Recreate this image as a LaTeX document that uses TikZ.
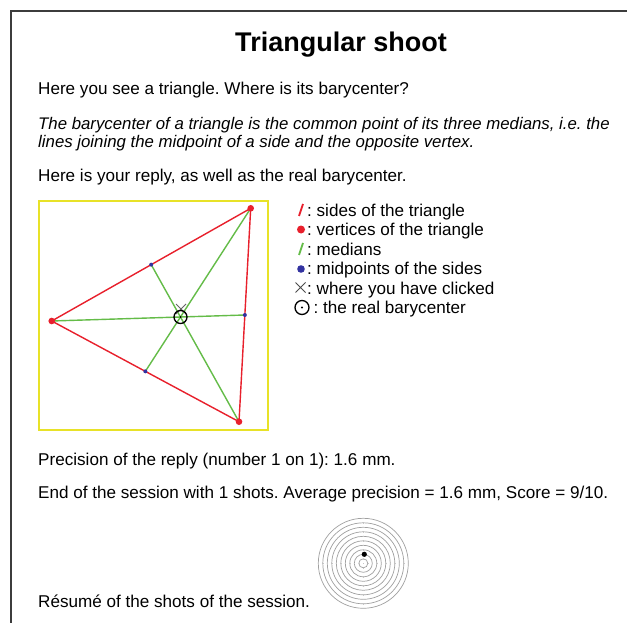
\documentclass[tikz,border=0pt]{standalone}
\usepackage{fontspec}
\setmainfont{Liberation Sans}
\usetikzlibrary{calc}
\frenchspacing
\definecolor{tyellow}{RGB}{232,226,40}
\definecolor{tred}{RGB}{232,32,44}
\definecolor{tgreen}{RGB}{100,188,72}
\definecolor{tblue}{RGB}{50,50,160}
\definecolor{tframe}{RGB}{60,60,60}
\definecolor{tring}{RGB}{160,160,160}
\tikzset{
  txt/.style={anchor=base west, inner sep=0pt, font=\fontsize{17.1}{20}\selectfont},
  itxt/.style={txt, font=\fontsize{16.8}{20}\selectfont\itshape},
  side/.style={draw=tred, line width=1.4pt},
  median/.style={draw=tgreen, line width=1.4pt},
  vdot/.style={fill=tred},
  mdot/.style={fill=tblue},
}
\begin{document}
\begin{tikzpicture}[x=1pt,y=-1pt]
\useasboundingbox (0,0) rectangle (627,623);
\fill[white] (0,0) rectangle (627,623);
% frame
\draw[tframe, line width=1.5pt] (11,623) -- (11,11) -- (627,11);
% title
\node[anchor=base, inner sep=0pt, font=\fontsize{27}{30}\selectfont\bfseries] (title) at (341,52) {Triangular shoot};
\node[txt] (q) at (38,95) {Here you see a triangle. Where is its barycenter?};
\node[itxt] (d1) at (38,130) {The barycenter of a triangle is the common point of its three medians, i.e. the};
\node[itxt] (d2) at (38,148) {lines joining the midpoint of a side and the opposite vertex.};
\node[txt] (r) at (38,182) {Here is your reply, as well as the real barycenter.};
% box
\draw[tyellow, line width=2pt] (39,201) rectangle (268,430);
% triangle
\coordinate (A) at (250.7,208.3);
\coordinate (B) at (51.7,321);
\coordinate (C) at (239,421.7);
\coordinate (mAB) at ($(A)!0.5!(B)$);
\coordinate (mBC) at ($(B)!0.5!(C)$);
\coordinate (mCA) at ($(C)!0.5!(A)$);
\coordinate (G) at (180.5,317);
\draw[median] (A) -- (mBC);
\draw[median] (B) -- (mCA);
\draw[median] (C) -- (mAB);
\draw[side] (A) -- (B) -- (C) -- cycle;
\foreach \p in {A,B,C} \fill[vdot] (\p) circle (3.3);
\foreach \p in {mAB,mBC,mCA} \fill[mdot] (\p) circle (2);
% click
\coordinate (K) at (181,309);
\draw[black!60, line width=0.8pt] ($(K)+(-5,-5)$) -- ($(K)+(5,5)$) ($(K)+(-5,5)$) -- ($(K)+(5,-5)$);
\draw[black, line width=1.3pt] (G) circle (6.5);
\fill[black] (G) circle (1);
% legend
\draw[tred, line width=1.8pt] (299,216) -- (303,204);
\node[txt] (l1) at (307,216) {: sides of the triangle};
\fill[tred] (301,229.5) circle (4);
\node[txt] (l2) at (307,235.5) {: vertices of the triangle};
\draw[tgreen, line width=1.8pt] (299,255) -- (303,243);
\node[txt] (l3) at (307,255) {: medians};
\fill[tblue] (301,269) circle (3.8);
\node[txt] (l4) at (307,274.5) {: midpoints of the sides};
\draw[black!70, line width=0.8pt] (295.5,282.5) -- (305.5,292.5) (295.5,292.5) -- (305.5,282.5);
\node[txt] (l5) at (307,294) {: where you have clicked};
\draw[black, line width=1.3pt] (302,307.5) circle (7);
\fill[black] (302,307.5) circle (1.2);
\node[txt] (l6) at (313.5,313.5) {: the real barycenter};
% results
\node[txt] (p) at (38,465) {Precision of the reply (number 1 on 1): 1.6 mm.};
\node[txt] (e) at (38,498) {End of the session with 1 shots. Average precision = 1.6 mm, Score = 9/10.};
\node[txt] (s) at (38,607) {Résumé of the shots of the session.};
% target
\coordinate (T) at (363.3,563.3);
\foreach \k in {1,...,10} \draw[tring, line width=0.7pt] (T) circle (4.5*\k);
\draw[tring!60, line width=0.4pt, dash pattern=on 1pt off 3.5pt] ($(T)+(-45,0)$) -- ($(T)+(45,0)$) ($(T)+(0,-45)$) -- ($(T)+(0,45)$);
\fill[black] (364.3,554.3) circle (2.6);
\end{tikzpicture}
\end{document}
